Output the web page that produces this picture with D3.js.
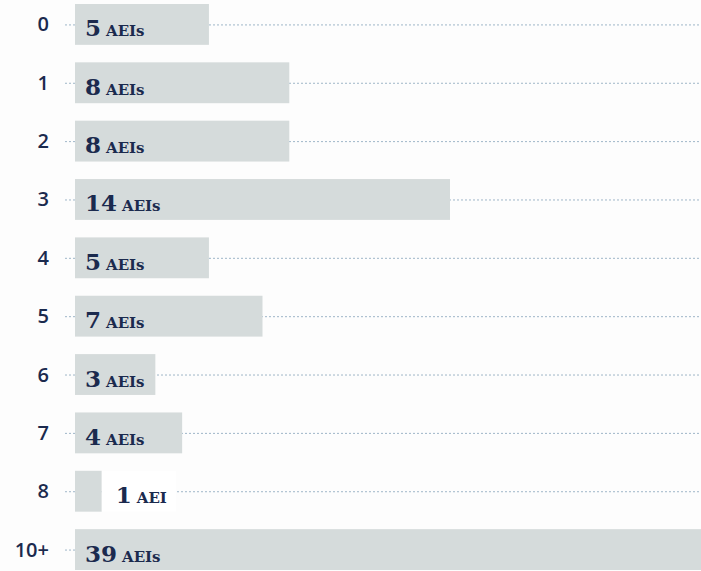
<!DOCTYPE html>
<html>
<head>
<meta charset="utf-8">
<script src="https://cdn.jsdelivr.net/npm/d3@7"></script>
<style>
  html, body { margin: 0; padding: 0; background: #fdfdfd; }
  svg { display: block; overflow: hidden; }
</style>
</head>
<body>
<div id="chart"></div>
<script>
// number of AEIs per category
var categories = ["0", "1", "2", "3", "4", "5", "6", "7", "8", "10+"];
var counts = [5, 8, 8, 14, 5, 7, 3, 4, 1, 39];
var units = ["AEIs", "AEIs", "AEIs", "AEIs", "AEIs", "AEIs", "AEIs", "AEIs", "AEI", "AEIs"];

var w = 701;
var h = 571;
var left = 75;
var navy = "#1b2a4e";

var dataset = categories.map(function(c, i) {
    return { cat: c, value: counts[i], unit: units[i] };
});

var svg = d3.select("#chart").append("svg").attr("width", w).attr("height", h);

var xScale = d3.scaleLinear().domain([0, 14]).range([left, 450]);
var yScale = d3.scaleBand().domain(categories).range([4, 570]).paddingInner(0.3).paddingOuter(0);

// dotted guide lines
svg.selectAll(".guide").data(dataset).enter().append("line")
    .attr("class", "guide")
    .attr("x1", 65).attr("x2", w)
    .attr("y1", function(d) { return yScale(d.cat) + yScale.bandwidth() / 2 + 0.5; })
    .attr("y2", function(d) { return yScale(d.cat) + yScale.bandwidth() / 2 + 0.5; })
    .style("stroke", "#9fb6c8").style("stroke-width", 1).style("stroke-dasharray", "2,2");

svg.selectAll(".bar").data(dataset).enter().append("rect")
    .attr("class", "bar")
    .attr("x", xScale(0))
    .attr("y", function(d) { return yScale(d.cat); })
    .attr("width", function(d) { return xScale(d.value) - xScale(0); })
    .attr("height", yScale.bandwidth())
    .style("fill", "#d5dbdb");

// category labels
svg.selectAll(".catLabel").data(dataset).enter().append("text")
    .attr("class", "catLabel")
    .attr("x", 49)
    .attr("y", function(d) { return yScale(d.cat) + yScale.bandwidth() / 2 + 7; })
    .attr("text-anchor", "end")
    .style("font-family", "'Open Sans', 'Noto Sans', sans-serif")
    .style("font-size", "20px")
    .style("font-weight", 600)
    .style("fill", navy)
    .text(function(d) { return d.cat; });

// value labels, inside the bar unless it is too short
var labels = svg.selectAll(".valLabel").data(dataset).enter().append("g").attr("class", "valLabel");

var txt = labels.append("text")
    .attr("y", function(d) { return yScale(d.cat) + yScale.bandwidth() / 2 + 12; })
    .style("font-family", "'DejaVu Serif', serif")
    .style("font-weight", "bold")
    .style("fill", navy);
txt.append("tspan").style("font-size", "23px").text(function(d) { return d.value; });
txt.append("tspan").style("font-size", "15px").attr("dx", 5).text(function(d) { return d.unit; });

txt.each(function(d) {
    var t = d3.select(this);
    var bw = xScale(d.value) - xScale(0);
    var tw = this.getComputedTextLength();
    if (tw + 20 < bw) {
        t.attr("x", xScale(0) + 10);
    } else {
        t.attr("x", xScale(d.value) + 14);
        d3.select(this.parentNode).insert("rect", "text")
            .attr("x", xScale(d.value))
            .attr("y", yScale(d.cat))
            .attr("width", tw + 28)
            .attr("height", yScale.bandwidth())
            .style("fill", "#ffffff");
    }
});
</script>
</body>
</html>
